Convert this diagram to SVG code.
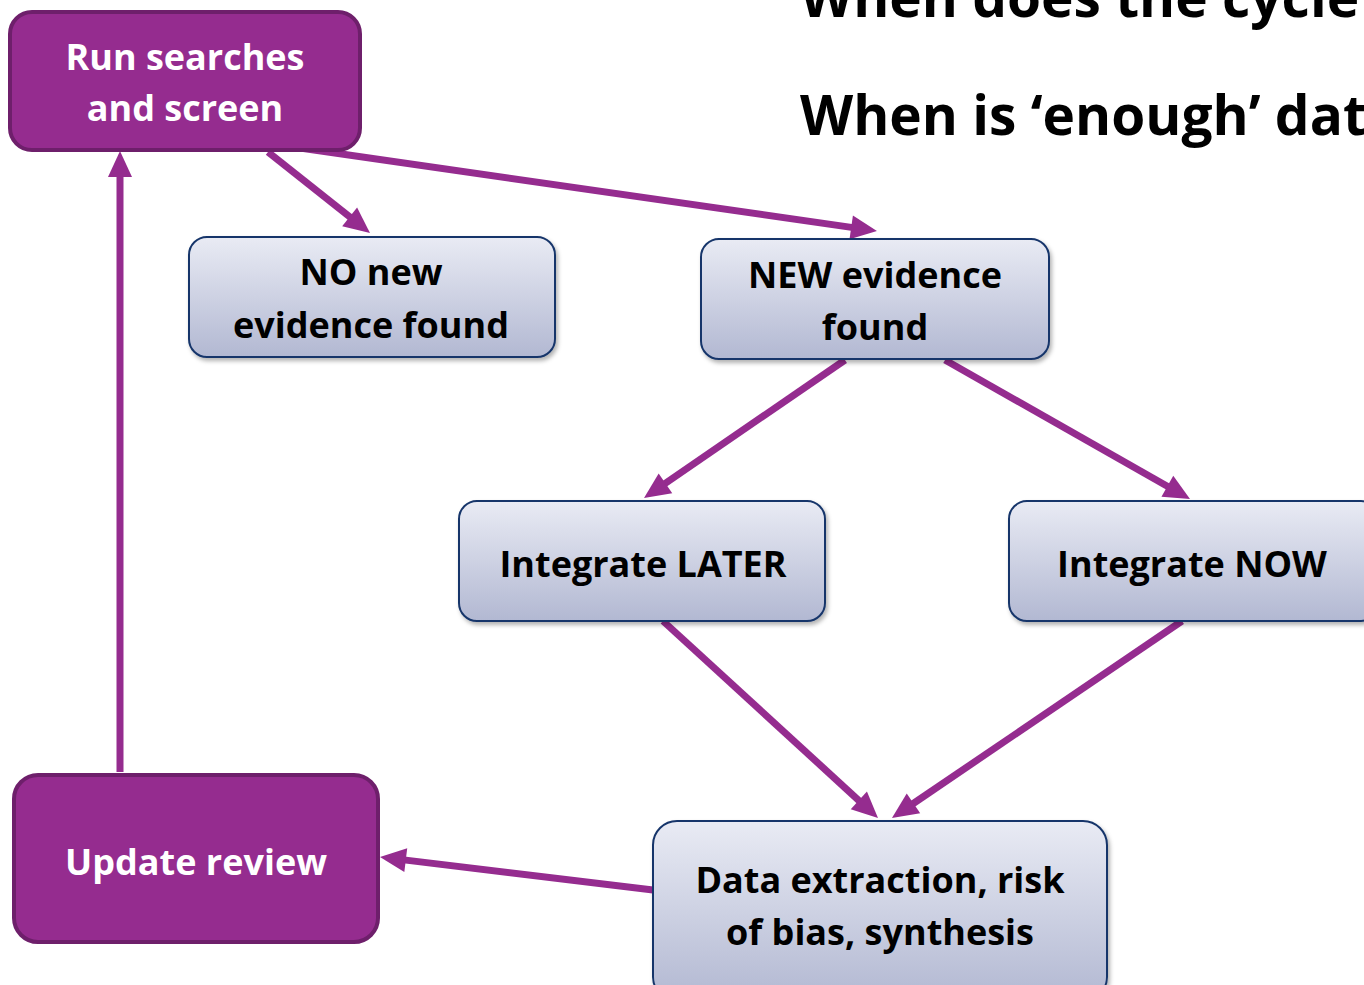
<svg xmlns="http://www.w3.org/2000/svg" width="1364" height="985" viewBox="0 0 1364 985">
<style>
.p{fill:#952c8f;stroke:#6e1f6b;stroke-width:4}
.b{fill:url(#g);stroke:#17366b;stroke-width:2;filter:url(#sh)}
.t{font-family:"Open Sans","Liberation Sans",sans-serif;font-weight:700;text-anchor:middle}
.w{fill:#ffffff}
.k{fill:#000000}
.c{stroke:#952c8f;stroke-width:7;fill:none;marker-end:url(#a)}
</style>
<defs>
<linearGradient id="g" x1="0" y1="0" x2="0" y2="1">
<stop offset="0" stop-color="#e9ebf4"/>
<stop offset="1" stop-color="#b2b8d2"/>
</linearGradient>
<filter id="sh" x="-10%" y="-10%" width="120%" height="130%">
<feDropShadow dx="2" dy="3" stdDeviation="2" flood-color="#000" flood-opacity="0.3"/>
</filter>
<marker id="a" markerUnits="userSpaceOnUse" markerWidth="28" markerHeight="26" refX="2" refY="12" orient="auto" overflow="visible">
<path d="M0,0 L26,12 L0,24 Z" fill="#952c8f"/>
</marker>
</defs>
<text class="t k" x="800" y="17" style="text-anchor:start" font-size="55">When does the cycle</text>
<text class="t k" x="800" y="135" style="text-anchor:start" font-size="55">When is ‘enough’ data</text>
<g id="connectors">
<line class="c" x1="268" y1="152" x2="351.2" y2="218.1"/>
<line class="c" x1="300" y1="148" x2="853.2" y2="227.6"/>
<line class="c" x1="845" y1="360" x2="663.8" y2="484.4"/>
<line class="c" x1="945" y1="360" x2="1169.1" y2="487.2"/>
<line class="c" x1="663" y1="621" x2="860.3" y2="801.8"/>
<line class="c" x1="1182" y1="621" x2="911.8" y2="804.5"/>
<line class="c" x1="653" y1="890" x2="403.8" y2="859.9"/>
<line class="c" x1="120" y1="772" x2="120" y2="175"/>
</g>
<g id="run">
<rect class="p" x="10" y="12" width="350" height="138" rx="22"/>
<text class="t w" x="185" y="70" font-size="36">Run searches</text>
<text class="t w" x="185" y="121" font-size="36">and screen</text>
</g>
<g id="nonew">
<rect class="b" x="189" y="237" width="366" height="120" rx="18"/>
<text class="t k" x="371" y="285" font-size="36">NO new</text>
<text class="t k" x="371" y="338" font-size="36">evidence found</text>
</g>
<g id="new">
<rect class="b" x="701" y="239" width="348" height="120" rx="18"/>
<text class="t k" x="875" y="288" font-size="36">NEW evidence</text>
<text class="t k" x="875" y="340" font-size="36">found</text>
</g>
<g id="later">
<rect class="b" x="459" y="501" width="366" height="120" rx="18"/>
<text class="t k" x="643" y="577" font-size="36">Integrate LATER</text>
</g>
<g id="now">
<rect class="b" x="1009" y="501" width="370" height="120" rx="18"/>
<text class="t k" x="1192" y="577" font-size="36">Integrate NOW</text>
</g>
<g id="data">
<rect class="b" x="653" y="821" width="454" height="180" rx="24"/>
<text class="t k" x="880" y="893" font-size="36">Data extraction, risk</text>
<text class="t k" x="880" y="945" font-size="36">of bias, synthesis</text>
</g>
<g id="update">
<rect class="p" x="14" y="775" width="364" height="167" rx="24"/>
<text class="t w" x="196" y="875" font-size="36">Update review</text>
</g>
</svg>
